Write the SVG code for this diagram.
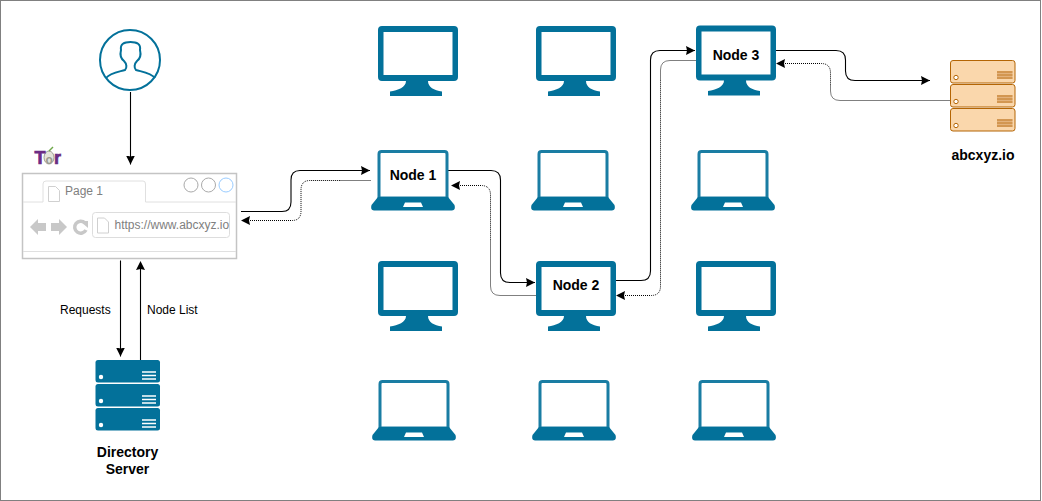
<svg xmlns="http://www.w3.org/2000/svg" width="1042" height="501" viewBox="0 0 1042 501">
<style>
text{font-family:"Liberation Sans",Arial,sans-serif;font-size:12px;fill:#000}
.b{font-weight:bold;font-size:14px}
.m{text-anchor:middle}
.g{fill:#808080}
.k{fill:none;stroke:#000;stroke-width:1.1}
.d{fill:none;stroke:#000;stroke-width:1;stroke-dasharray:1 1}
.s{fill:none;stroke:#808080;stroke-width:1}
.t{fill:#03719a}
</style>
<defs>
<marker id="a" markerUnits="userSpaceOnUse" markerWidth="12" markerHeight="12" refX="9" refY="4.500" orient="auto"><path d="M0 0L9 4.500L0 9L1 4.500Z" fill="#000"/></marker>
<path id="h" d="M0 0L9 -4.500L8 0L9 4.500Z"/>
<path id="mon" class="t" fill-rule="evenodd" d="M4 0H76Q80 0 80 4V51Q80 55 76 55H50C50 61 56 64.500 64 65.500V70H12V65.500C20 64.500 28 61 28 55H4Q0 55 0 51V4Q0 0 4 0ZM5.500 6V49H74.500V6Z"/>
<g id="lap">
<path fill="#fff" stroke="#1a7da3" stroke-width="3" d="M3.500 1.500H66.500Q69 1.500 69 4V48H1V4Q1 1.500 3.500 1.500Z"/>
<path class="t" fill-rule="evenodd" d="M0 47H70L76.500 55Q78 60 74 60.500H-4Q-8 60 -6.500 55ZM27 52.500L25 57H45L43 52.500Z"/>
</g>
<rect id="srv" width="64.500" height="22.500" rx="2.500"/>
<path id="lines" fill="none" stroke="#fff" stroke-width="1.500" d="M0 0H14M0 3.500H14M0 7H14"/>
<path id="page" d="M0 0H7L11 4V15H0Z" fill="#fff" stroke="#d0d0d0"/>
</defs>
<rect x="0.500" y="0.500" width="1040" height="500" fill="#fff" stroke="#808080"/>

<g id="connectors">
<path class="k" d="M130.500 92V164.500" marker-end="url(#a)"/>
<path class="k" d="M241 211.500H282Q291 211.500 291 202V180Q291 170.500 300 170.500H370" marker-end="url(#a)"/>
<use href="#h" x="241" y="220.500"/>
<path class="d" d="M248 220.500H292Q301 220.500 301 211V190Q301 180.500 310 180.500H340"/>
<path class="s" d="M340 180.500H371"/>
<path class="k" d="M120.500 260.500V356.500" marker-end="url(#a)"/>
<use href="#h" transform="translate(140.500 261) rotate(90)"/>
<path class="k" d="M140.500 360V268"/>
<path class="k" d="M448 170.500H491Q500.500 170.500 500.500 180V273Q500.500 282.500 510 282.500H535" marker-end="url(#a)"/>
<use href="#h" x="451" y="185.500"/>
<path class="d" d="M458 185.500H481Q490.500 185.500 490.500 195V240"/>
<path class="s" d="M490.500 240V286Q490.500 295.500 500 295.500H536"/>
<path class="k" d="M616 280.500H641Q650.500 280.500 650.500 271V60Q650.500 50.500 660 50.500H695" marker-end="url(#a)"/>
<use href="#h" x="616" y="295.500"/>
<path class="d" d="M623 295.500H651Q660.500 295.500 660.500 286V80"/>
<path class="s" d="M660.500 80V70Q660.500 60.500 670 60.500H696"/>
<path class="k" d="M776 50.500H836Q845.500 50.500 845.500 60V71Q845.500 80.500 855 80.500H930" marker-end="url(#a)"/>
<use href="#h" x="776" y="63.500"/>
<path class="d" d="M783 63.500H821Q830.500 63.500 830.500 73V85"/>
<path class="s" d="M830.500 85V91Q830.500 100.500 840 100.500H950"/>
</g>

<g id="user">
<circle cx="130" cy="60" r="30" fill="#fff" stroke="#03719a" stroke-width="2"/>
<path fill="none" stroke="#03719a" stroke-width="2" d="M106 78C110 73 118 72 125 70C127 68 127 64 124 61C120 58 120 54 121 50C120 44 124 42 130.500 42C137 42 141 44 140 50C141 54 141 58 137 61C134 64 134 68 136 70C143 72 151 73 155 78"/>
</g>

<g id="browser">
<rect x="22.500" y="173.500" width="214" height="85" fill="#fff" stroke="#c4c4c4" stroke-width="1.500"/>
<path fill="none" stroke="#e0e0e0" d="M23 202H43V184Q43 181 46 181H143Q145.500 181 145.500 184V202H236M23 251.500H236"/>
<use href="#page" x="48.500" y="186.500"/>
<text x="65" y="195" class="g">Page 1</text>
<circle cx="191" cy="185" r="7" fill="#fff" stroke="#aaa"/>
<circle cx="208.500" cy="185" r="7" fill="#fff" stroke="#aaa"/>
<circle cx="226" cy="185" r="7" fill="#fff" stroke="#99ccff"/>
<path fill="#c8c8c8" d="M30 227L38 219V223H46V231H38V235ZM67 227L59 219V223H51V231H59V235Z"/>
<path fill="none" stroke="#c8c8c8" stroke-width="3.500" d="M85 223A6 6 0 1 0 86 230"/>
<path fill="#c8c8c8" d="M80 221H88V228Z"/>
<rect x="92.500" y="212.500" width="137" height="25" rx="3" fill="#fff" stroke="#ddd"/>
<use href="#page" x="97.500" y="218"/>
<text x="114.500" y="229" class="g">https://www.abcxyz.io</text>
</g>

<g id="tor-logo">
<ellipse cx="49" cy="157.500" rx="5" ry="6.500" fill="#e4e4da" stroke="#8a8a80" stroke-width=".8"/>
<path d="M49 151L53 147" fill="none" stroke="#6fa84a" stroke-width="1.500"/>
<text y="163.500" style="font-size:18px;font-weight:bold;fill:#6b2c83;stroke:#6b2c83;stroke-width:.7"><tspan x="34.500">T</tspan><tspan x="45.500" style="font-size:12px;fill:#9a9a90;stroke:none">o</tspan><tspan x="54">r</tspan></text>
</g>

<g id="pc-1"><use href="#mon" x="378" y="26"/></g>
<g id="pc-2"><use href="#mon" x="536" y="26"/></g>
<g id="node-3"><use href="#mon" x="696" y="25.500"/><text x="736" y="60" class="b m">Node 3</text></g>
<g id="node-1"><use href="#lap" x="378" y="150"/><text x="413" y="180" class="b m">Node 1</text></g>
<g id="pc-3"><use href="#lap" x="538" y="150"/></g>
<g id="pc-4"><use href="#lap" x="698" y="150"/></g>
<g id="pc-5"><use href="#mon" x="378" y="261"/></g>
<g id="node-2"><use href="#mon" x="536" y="261"/><text x="576" y="290" class="b m">Node 2</text></g>
<g id="pc-6"><use href="#mon" x="696" y="261"/></g>
<g id="pc-7"><use href="#lap" x="379" y="380"/></g>
<g id="pc-8"><use href="#lap" x="539" y="380"/></g>
<g id="pc-9"><use href="#lap" x="699" y="380"/></g>

<g id="directory-server">
<g class="t"><use href="#srv" x="95.500" y="360"/><use href="#srv" x="95.500" y="384"/><use href="#srv" x="95.500" y="408"/></g>
<use href="#lines" x="142" y="372"/><use href="#lines" x="142" y="396"/><use href="#lines" x="142" y="420"/>
<circle cx="101" cy="377" r="2.200" fill="#fff"/><circle cx="101" cy="401" r="2.200" fill="#fff"/><circle cx="101" cy="425" r="2.200" fill="#fff"/>
<text x="127.500" y="457" class="b m">Directory</text>
<text x="127.500" y="474" class="b m">Server</text>
</g>

<g id="abcxyz-server">
<g fill="#fad7ac" stroke="#b46504"><use href="#srv" x="950.500" y="60.500"/><use href="#srv" x="950.500" y="84.500"/><use href="#srv" x="950.500" y="108.500"/></g>
<g fill="#e3b27c"><rect x="997" y="71" width="15.500" height="8"/><rect x="997" y="95" width="15.500" height="8"/><rect x="997" y="119" width="15.500" height="8"/></g>
<path stroke="#b46504" stroke-opacity=".7" fill="none" d="M997 72H1012.500M997 75H1012.500M997 78H1012.500M997 96H1012.500M997 99H1012.500M997 102H1012.500M997 120H1012.500M997 123H1012.500M997 126H1012.500"/>
<g fill="#fff" stroke="#b46504"><circle cx="956" cy="77.500" r="2.200"/><circle cx="956" cy="101.500" r="2.200"/><circle cx="956" cy="125.500" r="2.200"/></g>
<text x="983" y="160" class="b m">abcxyz.io</text>
</g>

<g id="labels">
<text x="60" y="314">Requests</text>
<text x="147" y="314">Node List</text>
</g>
</svg>
